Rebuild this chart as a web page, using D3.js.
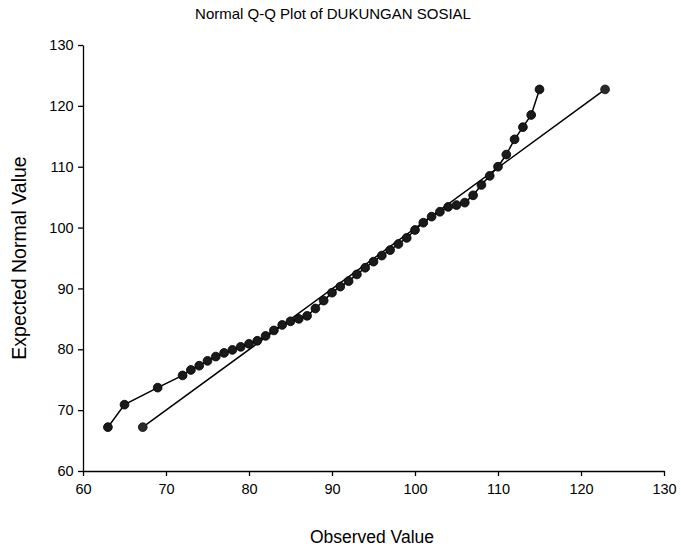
<!DOCTYPE html>
<html><head><meta charset="utf-8">
<script src="https://cdn.jsdelivr.net/npm/d3@7"></script>
<style>body{margin:0;background:#fff}</style></head>
<body><svg id="c" width="681" height="555"></svg>
<script>
const observed = [63,65,69,72,73,74,75,76,77,78,79,80,81,82,83,84,85,86,87,88,89,90,91,92,93,94,95,96,97,98,99,100,101,102,103,104,105,106,107,108,109,110,111,112,113,114,115];
const expected = [67.2,70.9,73.7,75.7,76.6,77.3,78.1,78.8,79.4,79.9,80.4,80.9,81.4,82.2,83.1,84.0,84.6,85.0,85.5,86.7,88.0,89.3,90.3,91.2,92.3,93.4,94.4,95.4,96.3,97.3,98.3,99.6,100.8,101.8,102.6,103.4,103.7,104.1,105.3,107.0,108.5,110.0,112.0,114.5,116.5,118.5,122.7];
const refX = [67.2,122.9];
const refY = [67.2,122.7];
const xTicks = [60,70,80,90,100,110,120,130];
const yTicks = [60,70,80,90,100,110,120,130];

const svg = d3.select("#c");
const font = "Liberation Sans, Arial, sans-serif";
const x = d3.scaleLinear().domain([60,130]).range([83,664]);
const y = d3.scaleLinear().domain([60,130]).range([471,45]);

const xa = svg.append("g").attr("transform","translate(0,471)")
  .call(d3.axisBottom(x).tickValues(xTicks).tickSize(5).tickSizeOuter(0));
const ya = svg.append("g").attr("transform","translate(83,0)")
  .call(d3.axisLeft(y).tickValues(yTicks).tickSize(5).tickSizeOuter(0));
[xa,ya].forEach(a=>{
  a.selectAll("path,line").attr("stroke","#000").attr("stroke-width",1.3);
  a.selectAll("text").attr("font-family",font).attr("font-size",14.5).attr("fill","#000");
});
xa.selectAll("text").attr("dy","1.0em");
ya.selectAll("text").attr("dx","-0.1em");

const pts = observed.map((v,i)=>[v,expected[i]]);
const ref = refX.map((v,i)=>[v,refY[i]]);
const line = d3.line().x(d=>x(d[0])).y(d=>y(d[1]));
svg.append("path").datum(ref).attr("d",line).attr("fill","none").attr("stroke","#000").attr("stroke-width",1.5);
svg.append("path").datum(pts).attr("d",line).attr("fill","none").attr("stroke","#000").attr("stroke-width",1.5);
svg.selectAll("circle.r").data(ref).enter().append("circle").attr("class","r")
  .attr("cx",d=>x(d[0])).attr("cy",d=>y(d[1])).attr("r",4.4).attr("fill","#2a2a2a").attr("stroke","#111").attr("stroke-width",0.8);
svg.selectAll("circle.p").data(pts).enter().append("circle").attr("class","p")
  .attr("cx",d=>x(d[0])).attr("cy",d=>y(d[1])).attr("r",4.4).attr("fill","#1a1a1a").attr("stroke","#000").attr("stroke-width",0.8);

svg.append("text").attr("x",333).attr("y",19).attr("text-anchor","middle")
  .attr("font-family",font).attr("font-size",15).text("Normal Q-Q Plot of DUKUNGAN SOSIAL");
svg.append("text").attr("x",372).attr("y",543).attr("text-anchor","middle")
  .attr("font-family",font).attr("font-size",17.5).text("Observed Value");
svg.append("text").attr("transform","translate(26,258) rotate(-90)").attr("text-anchor","middle")
  .attr("font-family",font).attr("font-size",19.5).text("Expected Normal Value");
</script></body></html>
